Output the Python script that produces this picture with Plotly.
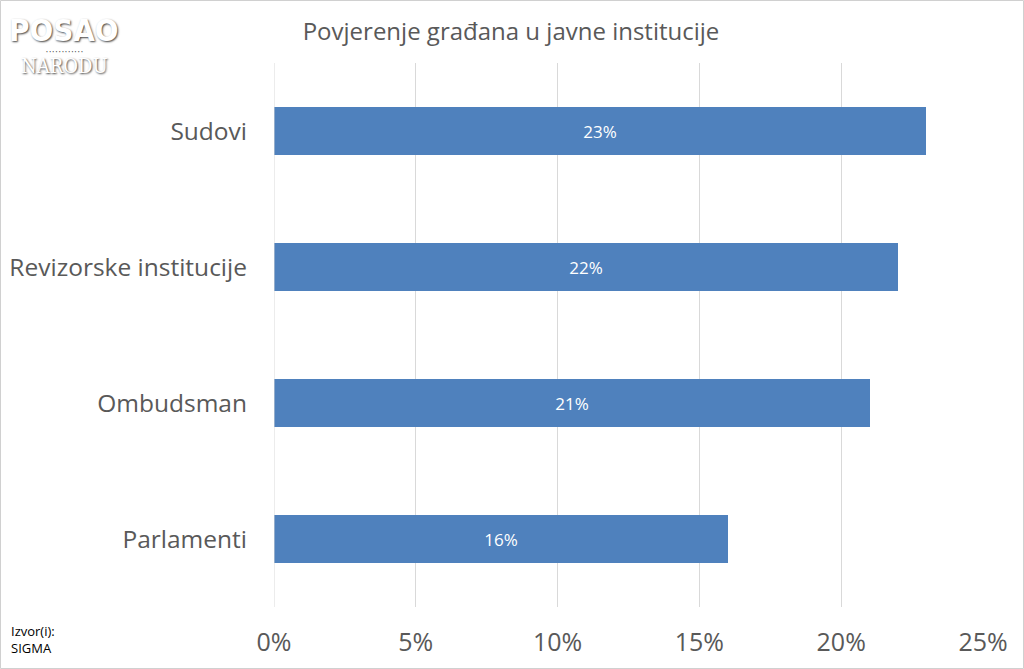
import plotly.graph_objects as go

categories = ["Parlamenti", "Ombudsman", "Revizorske institucije", "Sudovi"]
values = [16, 21, 22, 23]
labels = ["16%", "21%", "22%", "23%"]
tick_vals = [0, 5, 10, 15, 20, 25]
tick_text = ["0%", "5%", "10%", "15%", "20%", "25%"]
title_text = "Povjerenje građana u javne institucije"
source_text = "Izvor(i):<br>SIGMA"

FONT = "Open Sans"
GREY = "#595959"

fig = go.Figure(go.Bar(
    y=categories, x=values, orientation="h",
    width=0.353,
    marker=dict(color="#4f81bd", line=dict(width=0)),
    text=labels, textposition="inside", insidetextanchor="middle",
    textfont=dict(color="white", size=17, family=FONT),
    hoverinfo="skip",
))

L, R, T, B = 274, 41, 63, 62
W, H = 1024, 669
pw, ph = W - L - R, H - T - B

def px_x(p):
    return (p - L) / pw

def px_y(p):
    return (H - B - p) / ph

fig.update_layout(
    width=W, height=H,
    margin=dict(l=L, r=R, t=T, b=B, autoexpand=False),
    paper_bgcolor="white", plot_bgcolor="white",
    showlegend=False,
    font=dict(family=FONT, color=GREY),
    title=dict(text=title_text, x=511 / W, xref="container", xanchor="center",
               y=1 - 32 / H, yref="container", yanchor="middle",
               font=dict(size=24, color=GREY, family=FONT)),
    xaxis=dict(range=[0, 25], tickvals=tick_vals, ticktext=tick_text,
               showgrid=True, gridcolor="#d9d9d9", gridwidth=1,
               zeroline=False, showline=False, ticks="", automargin=False,
               tickfont=dict(size=25, color=GREY, family=FONT),
               ticklabelstandoff=18),
    yaxis=dict(range=[-0.5, 3.5], showgrid=False, zeroline=False,
               showline=False, ticks="", automargin=False,
               tickfont=dict(size=24.5, color=GREY, family=FONT),
               ticklabelstandoff=26),
    bargap=0,
)

fig.add_shape(type="line", xref="x", yref="paper", x0=0, x1=0, y0=0, y1=1,
              line=dict(color="#d9d9d9", width=1))

fig.add_shape(type="rect", xref="paper", yref="paper",
              x0=px_x(0.5), x1=px_x(W - 0.5), y0=px_y(H - 0.5), y1=px_y(0.5),
              line=dict(color="#d0d0d0", width=1))

fig.add_annotation(text=source_text, xref="paper", yref="paper",
                   x=px_x(9), y=px_y(620), xanchor="left", yanchor="top",
                   align="left", showarrow=False,
                   font=dict(size=13, color="black", family=FONT))

fig.add_annotation(text="<b>POSAO</b>", xref="paper", yref="paper",
                   x=px_x(64), y=px_y(30), xanchor="center", yanchor="middle",
                   showarrow=False,
                   font=dict(size=31, color="white", family="DejaVu Sans Condensed",
                             shadow="1px 1px 2px #444"))
fig.add_annotation(text="• • • • • • • • • • • •", xref="paper", yref="paper",
                   x=px_x(64), y=px_y(52), xanchor="center", yanchor="middle",
                   showarrow=False,
                   font=dict(size=5, color="#555", family=FONT))
fig.add_annotation(text="NARODU", xref="paper", yref="paper",
                   x=px_x(64), y=px_y(66), xanchor="center", yanchor="middle",
                   showarrow=False,
                   font=dict(size=20, color="white", family="DejaVu Serif Condensed",
                             shadow="1px 1px 2px #444"))

fig.write_html("out.html", config={"displayModeBar": False},
               post_script="document.body.style.margin='0';document.body.style.padding='0';")
